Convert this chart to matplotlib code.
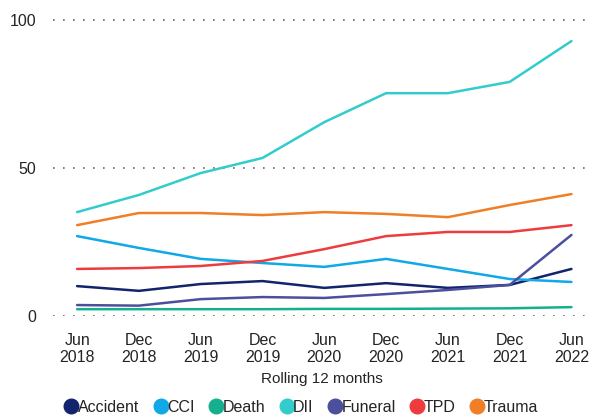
import matplotlib
matplotlib.use("Agg")
import matplotlib.pyplot as plt
from matplotlib.lines import Line2D

plt.rcParams["font.family"] = ["Liberation Sans", "DejaVu Sans"]

periods = ["Jun\n2018", "Dec\n2018", "Jun\n2019", "Dec\n2019", "Jun\n2020",
           "Dec\n2020", "Jun\n2021", "Dec\n2021", "Jun\n2022"]

accident = [10.1, 8.5, 10.8, 11.8, 9.5, 11.1, 9.5, 10.5, 15.9]
cci = [27.0, 23.0, 19.3, 17.9, 16.6, 19.3, 15.9, 12.5, 11.5]
death = [2.3, 2.3, 2.3, 2.3, 2.4, 2.4, 2.5, 2.6, 3.0]
dii = [35.1, 40.9, 48.3, 53.4, 65.5, 75.3, 75.3, 79.1, 92.9]
funeral = [3.7, 3.5, 5.7, 6.4, 6.1, 7.4, 8.8, 10.5, 27.4]
tpd = [15.9, 16.2, 16.9, 18.6, 22.6, 27.0, 28.4, 28.4, 30.7]
trauma = [30.7, 34.8, 34.8, 34.1, 35.1, 34.5, 33.4, 37.5, 41.2]

series = [
    ("Accident", accident, "#12246b"),
    ("CCI", cci, "#10a8e6"),
    ("Death", death, "#14b08e"),
    ("DII", dii, "#33cccc"),
    ("Funeral", funeral, "#4b4f9e"),
    ("TPD", tpd, "#ee3b3e"),
    ("Trauma", trauma, "#f07e26"),
]

text_color = "#252423"

fig = plt.figure(figsize=(5.9, 4.17), dpi=100)
ax = fig.add_axes([53 / 590, 1 - 316 / 417, (590 - 53) / 590, (316 - 10) / 417])

x = list(range(len(periods)))
for name, vals, color in series:
    ax.plot(x, vals, color=color, linewidth=1.8, label=name,
            solid_capstyle="round")

ax.set_xlim(-0.39, 8.3)
ax.set_ylim(0, 103.4)
ax.set_yticks([0, 50, 100])
ax.set_xticks(x)
ax.set_xticklabels(periods)
ax.tick_params(axis="both", length=0, labelsize=11.5, colors=text_color)
ax.tick_params(axis="y", pad=12)
ax.tick_params(axis="x", pad=12)
for sp in ax.spines.values():
    sp.set_visible(False)
ax.yaxis.grid(True, linestyle=(0, (1, 5)), color="#666666", linewidth=1.2)
ax.set_axisbelow(True)
ax.set_xlabel("Rolling 12 months", fontsize=11, color=text_color, labelpad=5)

handles = [Line2D([], [], marker="o", linestyle="none", markersize=10.5,
                  color=c) for _, _, c in series]
fig.legend(handles, [s[0] for s in series], loc="center",
           bbox_to_anchor=(300 / 590, 1 - 407 / 417), ncol=7, frameon=False,
           fontsize=11.5, handletextpad=-0.2, columnspacing=0.75,
           handlelength=1.2, borderpad=0, labelcolor=text_color)

fig.savefig("out.png", dpi=100)
